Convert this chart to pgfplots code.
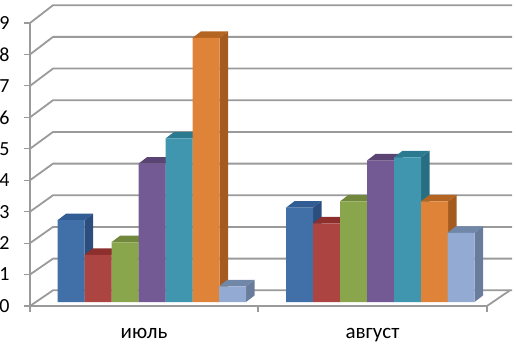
\documentclass[border=0pt]{standalone}
\usepackage{fontspec}
\setmainfont{Carlito}
\usepackage{pgfplots}
\pgfplotsset{compat=1.18}
\definecolor{gridc}{HTML}{9A9A9A}
\definecolor{s1}{HTML}{4170A8}\definecolor{s1d}{HTML}{2B4E7E}\definecolor{s1t}{HTML}{315C94}
\definecolor{s2}{HTML}{AC4442}\definecolor{s2d}{HTML}{7E2F2D}\definecolor{s2t}{HTML}{8C2F2D}
\definecolor{s3}{HTML}{8AA64C}\definecolor{s3d}{HTML}{667B38}\definecolor{s3t}{HTML}{70873C}
\definecolor{s4}{HTML}{745A94}\definecolor{s4d}{HTML}{523E6C}\definecolor{s4t}{HTML}{5A4474}
\definecolor{s5}{HTML}{4096AE}\definecolor{s5d}{HTML}{286E82}\definecolor{s5t}{HTML}{2C7A90}
\definecolor{s6}{HTML}{DE8338}\definecolor{s6d}{HTML}{A55B20}\definecolor{s6t}{HTML}{B56522}
\definecolor{s7}{HTML}{93AAD2}\definecolor{s7d}{HTML}{6A7C9C}\definecolor{s7t}{HTML}{7087A8}
% side and top faces of one bar: centre x, value, colours
\newcommand{\depth}[4]{%
  \pgfmathsetmacro{\xa}{#1-13.5}\pgfmathsetmacro{\xb}{#1+13.5}%
  \pgfmathsetmacro{\xc}{#1+22}\pgfmathsetmacro{\xd}{#1-5}%
  \pgfmathsetmacro{\yt}{#2+0.207}%
  \addplot[draw=none,fill=#3,forget plot] coordinates {(\xb,0) (\xc,0.207) (\xc,\yt) (\xb,#2)} --cycle;
  \addplot[draw=none,fill=#4,forget plot] coordinates {(\xa,#2) (\xb,#2) (\xc,\yt) (\xd,\yt)} --cycle;
}
\begin{document}
\begin{tikzpicture}[x=1pt,y=1pt]
\useasboundingbox (0,0) rectangle (516,344);
\begin{axis}[
  at={(30pt,38pt)},anchor=south west,
  scale only axis,width=457pt,height=283pt,
  xmin=30,xmax=487,ymin=-0.127,ymax=8.873,
  clip=false,
  axis x line=bottom,axis y line=left,
  axis line style={gridc,line width=1.8pt,-},
  x axis line style={-},y axis line style={-},
  tick style={gridc,line width=1.2pt},
  major tick length=6pt,
  tick align=outside,
  ytick={-0.127,0.873,1.873,2.873,3.873,4.873,5.873,6.873,7.873,8.873},
  yticklabels={0,1,2,3,4,5,6,7,8,9},
  yticklabel style={font=\fontsize{20}{20}\selectfont,anchor=east,xshift=-11pt,black},
  xtick={30,258,487},
  xticklabels={,,},
  extra x ticks={144,372.5},
  extra x tick labels={июль,август},
  extra x tick style={tick style={draw=none},
    xticklabel style={font=\fontsize{21}{21}\selectfont,black,yshift=-13pt}},
]
% back wall gridlines and left wall / floor diagonals
\addplot[gridc,line width=1.8pt,forget plot] coordinates {(30,-0.127) (53,0.372) (512,0.372)};
\addplot[gridc,line width=1.8pt,forget plot] coordinates {(487,-0.127) (510,0.372)};
\addplot[gridc,line width=1.8pt,forget plot] coordinates {(30,0.873) (53,1.379) (512,1.379)};
\addplot[gridc,line width=1.8pt,forget plot] coordinates {(30,1.873) (53,2.387) (512,2.387)};
\addplot[gridc,line width=1.8pt,forget plot] coordinates {(30,2.873) (53,3.394) (512,3.394)};
\addplot[gridc,line width=1.8pt,forget plot] coordinates {(30,3.873) (53,4.401) (512,4.401)};
\addplot[gridc,line width=1.8pt,forget plot] coordinates {(30,4.873) (53,5.409) (512,5.409)};
\addplot[gridc,line width=1.8pt,forget plot] coordinates {(30,5.873) (53,6.416) (512,6.416)};
\addplot[gridc,line width=1.8pt,forget plot] coordinates {(30,6.873) (53,7.423) (512,7.423)};
\addplot[gridc,line width=1.8pt,forget plot] coordinates {(30,7.873) (53,8.431) (512,8.431)};
\addplot[gridc,line width=1.8pt,forget plot] coordinates {(30,8.873) (53,9.438) (512,9.438)};
% series
\depth{71}{2.6}{s1d}{s1t}\depth{299.5}{3.0}{s1d}{s1t}
\addplot[ybar,bar width=27pt,bar shift=0pt,draw=none,fill=s1] coordinates {(71,2.6) (299.5,3.0)};
\depth{98}{1.5}{s2d}{s2t}\depth{326.5}{2.5}{s2d}{s2t}
\addplot[ybar,bar width=27pt,bar shift=0pt,draw=none,fill=s2] coordinates {(98,1.5) (326.5,2.5)};
\depth{125}{1.9}{s3d}{s3t}\depth{353.5}{3.2}{s3d}{s3t}
\addplot[ybar,bar width=27pt,bar shift=0pt,draw=none,fill=s3] coordinates {(125,1.9) (353.5,3.2)};
\depth{152}{4.4}{s4d}{s4t}\depth{380.5}{4.5}{s4d}{s4t}
\addplot[ybar,bar width=27pt,bar shift=0pt,draw=none,fill=s4] coordinates {(152,4.4) (380.5,4.5)};
\depth{179}{5.2}{s5d}{s5t}\depth{407.5}{4.6}{s5d}{s5t}
\addplot[ybar,bar width=27pt,bar shift=0pt,draw=none,fill=s5] coordinates {(179,5.2) (407.5,4.6)};
\depth{206}{8.4}{s6d}{s6t}\depth{434.5}{3.2}{s6d}{s6t}
\addplot[ybar,bar width=27pt,bar shift=0pt,draw=none,fill=s6] coordinates {(206,8.4) (434.5,3.2)};
\depth{232.5}{0.5}{s7d}{s7t}\depth{461}{2.2}{s7d}{s7t}
\addplot[ybar,bar width=27pt,bar shift=0pt,draw=none,fill=s7] coordinates {(232.5,0.5) (461,2.2)};
\end{axis}
\end{tikzpicture}
\end{document}
